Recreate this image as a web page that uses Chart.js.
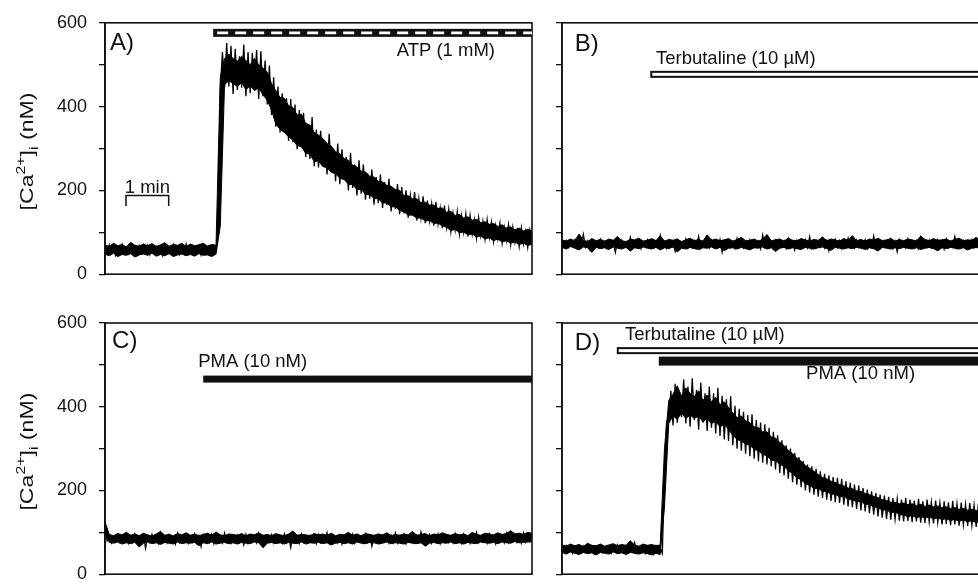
<!DOCTYPE html>
<html>
<head>
<meta charset="utf-8">
<script src="https://cdn.jsdelivr.net/npm/chart.js@4.4.0/dist/chart.umd.min.js"></script>
<style>
html, body { margin: 0; padding: 0; width: 978px; height: 585px; overflow: hidden; background: #fff; }
#stage { position: relative; width: 1000px; height: 600px; }
canvas { position: absolute; }
</style>
</head>
<body>
<div id="stage">
  <canvas id="panelA" width="545" height="297" style="left:0;top:0"></canvas>
  <canvas id="panelB" width="460" height="297" style="left:540px;top:0"></canvas>
  <canvas id="panelC" width="545" height="297" style="left:0;top:300px"></canvas>
  <canvas id="panelD" width="460" height="297" style="left:540px;top:300px"></canvas>
</div>
<script>
// raw trace, one sample every 3 s from 0 to 600 s, [Ca2+]i in nM
var SAMPLE_STEP = 3;
// upper / lower edge of the dense core of the noise band, one reading every 6 s
var BAND_STEP = 6;

var caA = [
  62, 48, 70, 52, 66, 45, 63, 55, 71, 50,
  64, 49, 67, 53, 60, 46, 68, 51, 65, 54,
  69, 47, 62, 52, 66, 50, 58, 44, 67, 53,
  61, 49, 70, 52, 63, 47, 66, 55, 72, 50,
  60, 48, 65, 51, 68, 46, 62, 53, 64, 49,
  63, 50, 58, 112, 440, 530, 445, 552, 448, 545,
  430, 538, 440, 520, 445, 548, 425, 530, 432, 528,
  440, 535, 418, 532, 425, 510, 405, 498, 380, 470,
  352, 448, 338, 432, 345, 420, 318, 418, 315, 405,
  298, 392, 305, 385, 280, 355, 275, 375, 258, 345,
  255, 342, 262, 318, 238, 335, 246, 300, 222, 312,
  215, 298, 225, 280, 200, 290, 206, 262, 188, 272,
  192, 262, 178, 240, 180, 250, 166, 232, 170, 238,
  158, 220, 165, 228, 150, 205, 156, 215, 143, 208,
  145, 200, 135, 188, 140, 196, 128, 180, 134, 186,
  122, 176, 128, 168, 116, 172, 120, 158, 110, 164,
  112, 155, 102, 146, 106, 150, 96, 140, 100, 144,
  90, 140, 96, 130, 86, 135, 92, 126, 84, 130,
  88, 124, 78, 116, 84, 122, 74, 112, 80, 118,
  70, 112, 76, 104, 66, 110, 72, 102, 64, 106,
  85
];
var caAUpper = [
  70, 66, 74, 68, 71, 65, 76, 69, 67, 72,
  68, 73, 66, 70, 75, 67, 71, 69, 74, 66,
  72, 68, 70, 74, 67, 71, 69, 470, 515, 525,
  515, 508, 520, 510, 500, 515, 500, 492, 482, 455,
  438, 422, 420, 402, 398, 380, 382, 360, 356, 338,
  332, 324, 312, 306, 292, 288, 276, 272, 260, 256,
  246, 244, 234, 232, 222, 220, 212, 210, 202, 200,
  188, 187, 180, 180, 171, 172, 165, 165, 157, 158,
  148, 150, 140, 143, 134, 137, 129, 131, 123, 125,
  119, 121, 114, 118, 110, 113, 106, 110, 103, 107,
  102
];
var caALower = [
  48, 44, 50, 42, 47, 45, 49, 41, 46, 48,
  45, 50, 43, 47, 44, 49, 42, 46, 48, 44,
  47, 43, 49, 45, 46, 42, 48, 115, 452, 462,
  455, 448, 458, 440, 450, 438, 445, 428, 415, 392,
  358, 346, 338, 328, 320, 307, 304, 289, 286, 269,
  270, 257, 254, 243, 240, 229, 226, 215, 214, 202,
  202, 191, 190, 181, 180, 170, 170, 161, 161, 152,
  149, 141, 141, 134, 134, 127, 128, 121, 122, 115,
  112, 104, 107, 99, 101, 94, 96, 89, 91, 84,
  87, 80, 84, 77, 80, 74, 77, 71, 74, 69,
  71
];

var caB = [
  78, 66, 80, 64, 76, 68, 82, 63, 77, 67,
  95, 65, 79, 60, 81, 66, 75, 64, 83, 68,
  77, 62, 80, 67, 74, 52, 79, 65, 81, 66,
  76, 63, 88, 64, 78, 68, 80, 61, 77, 66,
  82, 65, 75, 63, 79, 67, 92, 64, 78, 62,
  80, 66, 77, 55, 81, 65, 76, 68, 84, 63,
  78, 64, 80, 66, 90, 62, 77, 67, 79, 63,
  81, 65, 76, 64, 83, 53, 78, 66, 80, 64,
  77, 62, 85, 66, 79, 63, 76, 68, 82, 64,
  79, 66, 78, 61, 93, 65, 80, 63, 77, 67,
  81, 64, 76, 66, 79, 62, 84, 65, 78, 58,
  80, 63, 77, 67, 82, 64, 89, 62, 78, 66,
  76, 65, 81, 63, 79, 56, 78, 66, 83, 64,
  80, 62, 77, 67, 86, 64, 79, 63, 81, 65,
  78, 66, 82, 61, 77, 65, 91, 64, 80, 63,
  79, 67, 76, 64, 83, 62, 78, 54, 81, 65,
  77, 63, 84, 66, 79, 64, 80, 62, 87, 66,
  78, 65, 81, 63, 76, 67, 82, 64, 79, 60,
  83, 64, 78, 66, 90, 63, 77, 65, 80, 62,
  79, 66, 82, 64, 77, 63, 85, 65, 78, 64,
  80
];
var caBUpper = [
  82, 79, 84, 80, 96, 81, 78, 85, 80, 83,
  79, 84, 81, 90, 80, 78, 83, 82, 86, 79,
  81, 85, 80, 92, 79, 83, 81, 84, 78, 82,
  86, 80, 83, 79, 94, 81, 84, 80, 82, 85,
  79, 83, 88, 80, 81, 84, 79, 83, 95, 80,
  82, 84, 79, 86, 81, 80, 85, 82, 79, 83,
  81, 89, 80, 84, 82, 79, 85, 81, 92, 80,
  83, 79, 84, 81, 86, 80, 82, 85, 79, 83,
  80, 84, 82, 79, 91, 83, 80, 85, 81, 82,
  84, 79, 83, 86, 80, 82, 81, 88, 79, 84,
  82
];
var caBLower = [
  64, 60, 66, 62, 58, 65, 63, 52, 64, 61,
  63, 59, 65, 62, 60, 64, 55, 63, 61, 65,
  62, 60, 64, 58, 63, 61, 65, 53, 62, 60,
  64, 61, 59, 63, 62, 65, 60, 64, 56, 62,
  63, 60, 64, 61, 58, 63, 62, 65, 60, 63,
  54, 62, 64, 60, 63, 61, 59, 64, 62, 60,
  63, 65, 61, 57, 64, 62, 60, 63, 61, 64,
  62, 59, 63, 61, 55, 64, 62, 60, 63, 61,
  64, 62, 60, 63, 59, 62, 64, 61, 56, 63,
  61, 64, 62, 60, 63, 58, 62, 64, 61, 63,
  62
];

var caC = [
  112, 80, 92, 75, 90, 78, 94, 76, 89, 79,
  93, 74, 91, 77, 96, 79, 88, 73, 92, 62,
  90, 76, 95, 78, 89, 74, 99, 77, 91, 75,
  94, 78, 88, 72, 97, 76, 90, 79, 93, 74,
  89, 77, 96, 75, 91, 66, 94, 78, 88, 76,
  95, 73, 90, 79, 87, 75, 98, 77, 92, 74,
  88, 78, 93, 76, 90, 70, 95, 74, 89, 79,
  92, 75, 97, 78, 88, 73, 91, 77, 94, 75,
  90, 79, 86, 74, 96, 76, 89, 64, 93, 78,
  91, 74, 95, 77, 88, 75, 92, 79, 90, 73,
  94, 76, 89, 78, 99, 74, 90, 77, 87, 75,
  93, 72, 91, 79, 88, 76, 95, 74, 90, 78,
  89, 75, 96, 77, 92, 67, 88, 79, 94, 76,
  90, 78, 87, 74, 93, 76, 98, 75, 91, 77,
  95, 73, 90, 78, 88, 75, 92, 77, 101, 76,
  91, 79, 94, 74, 89, 77, 96, 73, 90, 78,
  93, 76, 88, 75, 97, 78, 91, 74, 95, 77,
  90, 74, 92, 79, 100, 76, 89, 77, 94, 75,
  96, 78, 91, 73, 93, 77, 88, 75, 97, 76,
  92, 79, 95, 76, 90, 74, 98, 77, 93, 78,
  96
];
var caCUpper = [
  125, 95, 92, 97, 94, 100, 93, 96, 92, 98,
  94, 91, 96, 102, 93, 95, 92, 97, 94, 99,
  93, 96, 92, 95, 98, 93, 101, 94, 92, 96,
  95, 93, 97, 92, 96, 94, 99, 93, 95, 92,
  97, 94, 92, 96, 103, 93, 95, 94, 92, 97,
  94, 96, 93, 98, 92, 95, 94, 100, 93, 96,
  92, 97, 95, 93, 96, 94, 99, 92, 95, 93,
  96, 94, 102, 93, 95, 97, 92, 96, 94, 99,
  95, 93, 97, 94, 96, 92, 100, 95, 93, 98,
  96, 94, 99, 95, 97, 104, 96, 98, 95, 100,
  98
];
var caCLower = [
  100, 76, 74, 77, 72, 75, 73, 76, 65, 74,
  77, 73, 75, 71, 76, 74, 72, 77, 73, 75,
  74, 76, 68, 75, 73, 77, 72, 74, 76, 73,
  75, 72, 76, 74, 73, 77, 75, 63, 74, 76,
  73, 75, 72, 76, 74, 73, 77, 72, 75, 74,
  76, 73, 75, 70, 74, 76, 73, 75, 72, 77,
  74, 73, 76, 75, 72, 74, 77, 73, 75, 74,
  72, 76, 74, 73, 75, 67, 74, 76, 73, 75,
  74, 77, 73, 75, 72, 76, 74, 73, 77, 75,
  74, 76, 73, 77, 75, 74, 78, 75, 76, 77,
  78
];

var caD = [
  64, 52, 68, 55, 62, 50, 66, 54, 63, 51,
  67, 53, 61, 56, 65, 49, 63, 55, 69, 52,
  62, 54, 66, 50, 64, 57, 70, 53, 61, 55,
  65, 51, 63, 56, 75, 52, 64, 54, 62, 50,
  66, 55, 63, 48, 67, 53, 62, 50, 250, 365,
  372, 438, 355, 455, 362, 430, 375, 465, 360, 448,
  352, 468, 368, 440, 345, 458, 362, 432, 342, 448,
  350, 432, 336, 445, 330, 426, 322, 418, 318, 425,
  308, 402, 300, 395, 295, 388, 288, 380, 282, 382,
  276, 368, 270, 362, 266, 358, 262, 350, 258, 340,
  250, 332, 242, 320, 236, 308, 228, 300, 220, 290,
  214, 280, 208, 270, 200, 262, 195, 258, 190, 252,
  185, 246, 182, 240, 178, 236, 175, 232, 172, 230,
  170, 228, 166, 222, 162, 218, 160, 214, 156, 212,
  152, 206, 150, 202, 146, 198, 142, 194, 138, 190,
  135, 188, 132, 185, 130, 182, 131, 180, 128, 178,
  126, 182, 127, 178, 124, 176, 126, 180, 123, 174,
  122, 178, 125, 172, 121, 176, 124, 170, 119, 174,
  120, 172, 117, 175, 119, 168, 116, 171, 118, 166,
  115, 170, 117, 165, 113, 168, 116, 163, 112, 166,
  140
];
var caDUpper = [
  70, 67, 72, 68, 71, 66, 74, 69, 68, 72,
  67, 70, 73, 68, 71, 69, 80, 70, 67, 72,
  69, 71, 68, 70, 300, 415, 430, 450, 425, 445,
  432, 424, 438, 415, 428, 412, 422, 405, 412, 398,
  385, 374, 378, 366, 362, 352, 350, 340, 340, 328,
  325, 315, 307, 296, 288, 277, 270, 260, 253, 246,
  238, 231, 228, 222, 219, 214, 211, 206, 204, 199,
  198, 193, 190, 186, 183, 178, 176, 172, 172, 168,
  170, 166, 168, 164, 167, 162, 165, 161, 163, 159,
  161, 157, 159, 155, 157, 153, 155, 152, 154, 150,
  152
];
var caDLower = [
  52, 48, 53, 50, 47, 52, 49, 51, 46, 52,
  50, 48, 53, 49, 51, 47, 52, 50, 48, 51,
  49, 46, 50, 47, 160, 360, 378, 370, 385, 372,
  380, 372, 378, 364, 372, 360, 365, 352, 358, 346,
  332, 322, 318, 311, 308, 298, 295, 286, 283, 272,
  272, 262, 258, 247, 241, 230, 226, 216, 213, 204,
  205, 198, 198, 191, 191, 185, 186, 179, 179, 173,
  174, 167, 167, 160, 160, 153, 154, 147, 149, 142,
  142, 137, 140, 135, 138, 134, 137, 132, 135, 130,
  133, 128, 131, 126, 130, 125, 128, 123, 127, 122,
  125
];

// drug application bars: start / end time (s), height (nM)
var barsA = [{ name: 'ATP (1 mM)', kind: 'hatched', from: 152, to: 600, level: 576 }];
var barsB = [{ name: 'Terbutaline (10 \u00b5M)', kind: 'open', from: 124, to: 600, level: 477 }];
var barsC = [{ name: 'PMA (10 nM)', kind: 'solid', from: 138, to: 600, level: 466 }];
var barsD = [
  { name: 'Terbutaline (10 \u00b5M)', kind: 'open', from: 77, to: 600, level: 534 },
  { name: 'PMA (10 nM)', kind: 'thick', from: 136, to: 600, level: 509 }
];

var yTicks = [0, 200, 400, 600];

var FONT = '"Liberation Sans", Arial, Helvetica, sans-serif';
var barThickness = { hatched: 8, open: 7, solid: 7, thick: 9 };

// where the text goes, in data units (s, nM)
var layouts = {
  A: { letter: [7, 552], labels: [{ at: [548, 532], align: 'right' }], scaleBar: { from: 29.5, to: 89.5, level: 188, drop: 25, text: '1 min', textLevel: 207 } },
  B: { letter: [18, 549], labels: [{ at: [132, 513], align: 'left' }] },
  C: { letter: [10, 556], labels: [{ at: [131, 508], align: 'left' }] },
  D: { letter: [18, 552], labels: [{ at: [88.5, 571], align: 'left' }, { at: [343, 479], align: 'left' }] }
};

var panelDecor = {
  id: 'panelDecor',
  afterDatasetsDraw: function (chart, args, opts) {
    var ctx = chart.ctx, a = chart.chartArea;
    var xs = chart.scales.x, ys = chart.scales.y;
    var lay = layouts[opts.letter];

    ctx.save();
    // box around the plot
    ctx.strokeStyle = '#111';
    ctx.lineWidth = 1.6;
    ctx.strokeRect(a.left, a.top, a.right - a.left, a.bottom - a.top);

    ctx.beginPath();
    ctx.rect(a.left, a.top, a.right - a.left, a.bottom - a.top);
    ctx.clip();
    opts.bars.forEach(function (b) {
      var x1 = xs.getPixelForValue(b.from), x2 = xs.getPixelForValue(b.to) + 4;
      var yc = ys.getPixelForValue(b.level);
      var h = barThickness[b.kind];
      ctx.fillStyle = '#111';
      ctx.fillRect(x1, yc - h / 2, x2 - x1, h);
      if (b.kind === 'open') {
        ctx.fillStyle = '#fff';
        ctx.fillRect(x1 + 2, yc - h / 2 + 2, x2 - x1, h - 4);
      } else if (b.kind === 'hatched') {
        ctx.strokeStyle = '#fff';
        ctx.lineWidth = 2.6;
        ctx.setLineDash([11, 7]);
        ctx.beginPath();
        ctx.moveTo(x1 + 4, yc);
        ctx.lineTo(x2, yc);
        ctx.stroke();
        ctx.setLineDash([]);
      }
    });
    ctx.restore();

    ctx.save();
    ctx.fillStyle = '#111';
    ctx.textBaseline = 'middle';
    // panel letter
    ctx.font = '24px ' + FONT;
    ctx.textAlign = 'left';
    ctx.fillText(opts.letter + ')', xs.getPixelForValue(lay.letter[0]), ys.getPixelForValue(lay.letter[1]));
    // drug labels
    ctx.font = '18.5px ' + FONT;
    lay.labels.forEach(function (l, i) {
      ctx.textAlign = l.align;
      ctx.fillText(opts.bars[i].name, xs.getPixelForValue(l.at[0]), ys.getPixelForValue(l.at[1]));
    });
    // time scale bar
    if (lay.scaleBar) {
      var s = lay.scaleBar;
      var sx1 = xs.getPixelForValue(s.from), sx2 = xs.getPixelForValue(s.to);
      var sy = ys.getPixelForValue(s.level), sy2 = ys.getPixelForValue(s.level - s.drop);
      ctx.strokeStyle = '#111';
      ctx.lineWidth = 1.5;
      ctx.beginPath();
      ctx.moveTo(sx1, sy2); ctx.lineTo(sx1, sy); ctx.lineTo(sx2, sy); ctx.lineTo(sx2, sy2);
      ctx.stroke();
      ctx.textAlign = 'center';
      ctx.fillText(s.text, (sx1 + sx2) / 2, ys.getPixelForValue(s.textLevel));
    }
    ctx.restore();

    // y title with super/subscript
    if (opts.showTitle) {
      var parts = [
        { t: '[Ca', size: 19, shift: 0 },
        { t: '2+', size: 13, shift: -8 },
        { t: ']', size: 19, shift: 0 },
        { t: 'i', size: 13, shift: 5 },
        { t: ' (nM)', size: 19, shift: 0 }
      ];
      ctx.save();
      var total = 0;
      parts.forEach(function (p) { ctx.font = p.size + 'px ' + FONT; p.w = ctx.measureText(p.t).width; total += p.w; });
      var cy = (a.top + a.bottom) / 2 + 3;
      ctx.translate(33, cy);
      ctx.rotate(-Math.PI / 2);
      ctx.scale(118 / total, 1);
      ctx.fillStyle = '#111';
      ctx.textAlign = 'left';
      ctx.textBaseline = 'alphabetic';
      var px = -total / 2;
      parts.forEach(function (p) {
        ctx.font = p.size + 'px ' + FONT;
        ctx.fillText(p.t, px, p.shift);
        px += p.w;
      });
      ctx.restore();
    }
  }
};

function toPoints(values, step) {
  return values.map(function (v, i) { return { x: i * step, y: v }; });
}

function makePanel(canvasId, letter, trace, upper, lower, bars, cfg) {
  return new Chart(document.getElementById(canvasId), {
    type: 'line',
    data: {
      datasets: [
        { data: toPoints(upper, BAND_STEP), borderColor: '#000', borderWidth: 1, pointRadius: 0, tension: 0, fill: false, order: 2 },
        { data: toPoints(lower, BAND_STEP), borderColor: '#000', backgroundColor: '#000', borderWidth: 1, pointRadius: 0, tension: 0, fill: '-1', order: 2 },
        { data: toPoints(trace, SAMPLE_STEP), borderColor: '#000', borderWidth: 1.3, pointRadius: 0, tension: 0, fill: false, order: 1 }
      ]
    },
    options: {
      responsive: false,
      animation: false,
      events: [],
      layout: { padding: { top: cfg.padTop, right: cfg.padRight, left: 0, bottom: 0 } },
      plugins: {
        legend: { display: false },
        tooltip: { enabled: false },
        panelDecor: { letter: letter, bars: bars, showTitle: cfg.labels }
      },
      scales: {
        x: {
          type: 'linear', min: 0, max: 600,
          ticks: { display: false },
          grid: { display: false },
          border: { display: false },
          afterFit: function (s) { s.height = 14; }
        },
        y: {
          min: 0, max: 600,
          ticks: {
            stepSize: 100,
            color: '#111',
            padding: 12,
            font: { family: FONT, size: 18 },
            callback: function (v) { return cfg.labels && yTicks.indexOf(v) >= 0 ? v : ''; }
          },
          grid: { drawOnChartArea: false, tickLength: 6, color: '#111', lineWidth: 1.3 },
          border: { display: true, color: '#111', width: 1.6 },
          afterFit: function (s) { s.width = cfg.axisWidth; }
        }
      }
    },
    plugins: [panelDecor]
  });
}

makePanel('panelA', 'A', caA, caAUpper, caALower, barsA, { padTop: 22, padRight: 13, axisWidth: 105, labels: true });
makePanel('panelB', 'B', caB, caBUpper, caBLower, barsB, { padTop: 22, padRight: 11, axisWidth: 22, labels: false });
makePanel('panelC', 'C', caC, caCUpper, caCLower, barsC, { padTop: 23, padRight: 13, axisWidth: 105, labels: true });
makePanel('panelD', 'D', caD, caDUpper, caDLower, barsD, { padTop: 23, padRight: 11, axisWidth: 22, labels: false });
</script>
</body>
</html>
